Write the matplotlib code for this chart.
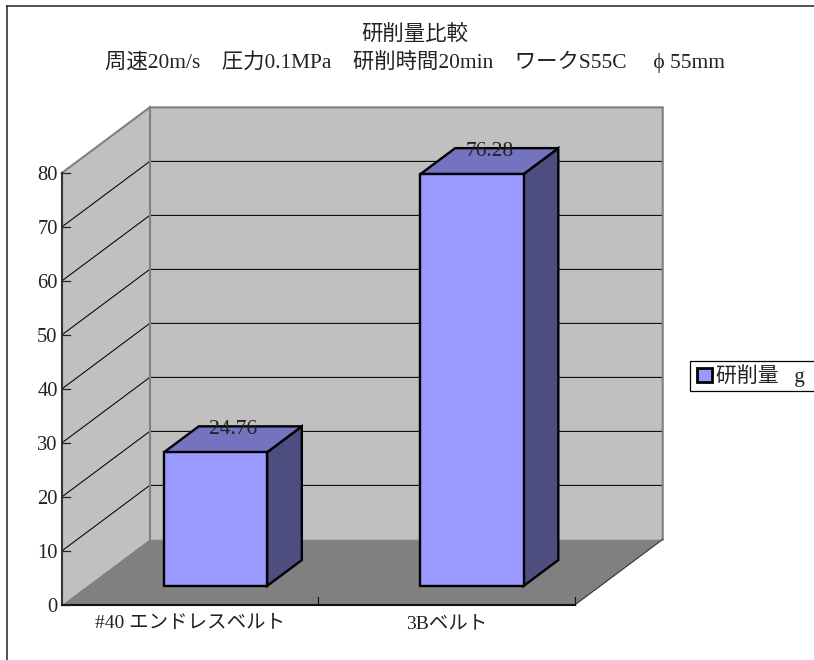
# 研削量比較 3D風棒グラフ (Excel 旧スタイル)
import matplotlib
matplotlib.use('Agg')
import matplotlib.pyplot as plt
from matplotlib.patches import Polygon, Patch, Rectangle

plt.rcParams['font.family'] = ['Liberation Serif', 'Noto Sans CJK JP', 'DejaVu Sans']

# ===== データ =====
categories = ['#40 エンドレスベルト', '3Bベルト']
values = [24.76, 76.28]
value_labels = ['24.76', '76.28']
y_ticks = [0, 10, 20, 30, 40, 50, 60, 70, 80]
title_lines = ['研削量比較',
               '周速20m/s    圧力0.1MPa    研削時間20min    ワークS55C     \u03d5 55mm']
legend_label = '研削量   g'

# ===== 奥行きの設定 =====
DX = 0.343      # 奥行き1あたりのx方向ずれ (カテゴリ単位)
DY = 12.15      # 奥行き1あたりのy方向ずれ (値の単位)
BAR_W = 0.402
BAR_D0, BAR_D1 = 0.29, 0.685
X0, X1 = -0.5, 1.5
YMAX = y_ticks[-1]


def pr(x, y, d=0.0):
    # 奥行きdの点を2Dに投影
    return (x + d * DX, y + d * DY)


fig = plt.figure(figsize=(8.14, 6.6), dpi=100, facecolor='white')
ax = fig.add_axes([0, 0, 1, 1])
# 1カテゴリ=256.5px, 値1=5.4px, 原点 (x=190px, y=605px)
ax.set_xlim(-190 / 256.5, (814 - 190) / 256.5)
ax.set_ylim((605 - 660) / 5.4, 605 / 5.4)
ax.axis('off')

# ---- 外枠 (右と下は画像の外に続く) ----
xl, xr = ax.get_xlim()
yb, yt = ax.get_ylim()
fx = xl + 6.5 / 814 * (xr - xl)
fy = yt - 5.5 / 660 * (yt - yb)
ax.plot([fx, fx], [yb, fy], color='#222222', lw=1.1, zorder=1)
ax.plot([fx, xr], [fy, fy], color='#222222', lw=1.1, zorder=1)

# ---- 壁と床 ----
ax.add_patch(Polygon([pr(X0, 0), pr(X0, YMAX), pr(X0, YMAX, 1), pr(X0, 0, 1)],
                     fc='#C0C0C0', ec='none', zorder=2))
ax.add_patch(Polygon([pr(X0, 0, 1), pr(X0, YMAX, 1), pr(X1, YMAX, 1), pr(X1, 0, 1)],
                     fc='#C0C0C0', ec='none', zorder=2))
ax.add_patch(Polygon([pr(X0, 0), pr(X1, 0), pr(X1, 0, 1), pr(X0, 0, 1)],
                     fc='#808080', ec='none', zorder=2))

# ---- 目盛線 ----
for v in y_ticks[1:-1]:
    xs, ys = zip(pr(X0, v), pr(X0, v, 1), pr(X1, v, 1))
    ax.plot(xs, ys, color='black', lw=0.75, zorder=3)

# ---- 壁の縁 ----
xs, ys = zip(pr(X0, YMAX), pr(X0, YMAX, 1), pr(X1, YMAX, 1), pr(X1, 0, 1))
ax.plot(xs, ys, color='#808080', lw=1.5, zorder=4, solid_joinstyle='miter')
xs, ys = zip(pr(X0, YMAX, 1), pr(X0, 0, 1))
ax.plot(xs, ys, color='#808080', lw=1.5, zorder=4)
xs, ys = zip(pr(X1, 0), pr(X1, 0, 1))
ax.plot(xs, ys, color='#333333', lw=0.8, zorder=4)

# ---- 棒 ----
for i, (val, txt) in enumerate(zip(values, value_labels)):
    x0, x1 = i - BAR_W / 2, i + BAR_W / 2
    edge = dict(ec='black', lw=1.7, joinstyle='miter', zorder=5)
    ax.add_patch(Polygon([pr(x1, 0, BAR_D0), pr(x1, val, BAR_D0), pr(x1, val, BAR_D1), pr(x1, 0, BAR_D1)],
                         fc='#4D4D80', **edge))
    ax.add_patch(Polygon([pr(x0, val, BAR_D0), pr(x1, val, BAR_D0), pr(x1, val, BAR_D1), pr(x0, val, BAR_D1)],
                         fc='#7373BF', **edge))
    ax.add_patch(Polygon([pr(x0, 0, BAR_D0), pr(x1, 0, BAR_D0), pr(x1, val, BAR_D0), pr(x0, val, BAR_D0)],
                         fc='#9999FF', **edge))
    lx = pr(i, val, (BAR_D0 + BAR_D1) / 2)[0]
    ly = pr(i, val, BAR_D1)[1] - 0.55
    ax.text(lx, ly, txt, ha='center', va='center', fontsize=15.5, color='#222222', zorder=6)

# ---- 軸 ----
ax.plot([X0, X0], [0, YMAX], color='#333333', lw=1.5, zorder=4)
ax.plot([X0, X1], [0, 0], color='#111111', lw=1.5, zorder=4)
for v in y_ticks:
    ax.plot([X0, X0 + 8 / 256.5], [v, v], color='#222222', lw=0.9, zorder=4)
    ax.text(X0 - 4 / 256.5, v - 2.5 / 5.4, str(v), ha='right', va='center', fontsize=14.8, color='#222222')
for x in [0.5, 1.5]:
    ax.plot([x, x], [0, 8 / 5.4], color='#111111', lw=0.8, zorder=4)
for i, c in enumerate(categories):
    ax.text(i, -18.5 / 5.4, c, ha='center', va='center', fontsize=14, color='#222222')

# ---- タイトル ----
ax.text(0.877, (605 - 36) / 5.4, title_lines[0], ha='center', va='center', fontsize=15.4, color='#222222')
ax.text(0.877, (605 - 61.5) / 5.4, title_lines[1], ha='center', va='center', fontsize=15.4, color='#222222')

# ---- 凡例 (枠は右端の外まで続く) ----
ax.add_patch(Rectangle((690 / 814, 1 - 391 / 660), 0.2, 30 / 660, transform=ax.transAxes,
                       fc='white', ec='black', lw=0.9, zorder=7))
leg = ax.legend(handles=[Patch(fc='#9999FF', ec='black', lw=2.0, label=legend_label)],
                loc='center left', bbox_to_anchor=(697 / 814, 1 - 376 / 660),
                fontsize=15, frameon=False, labelcolor='#222222',
                handlelength=0.72, handleheight=0.7, handletextpad=0.2,
                borderpad=0, borderaxespad=0)
leg.set_zorder(8)

fig.savefig('out.png', dpi=100, facecolor='white')
